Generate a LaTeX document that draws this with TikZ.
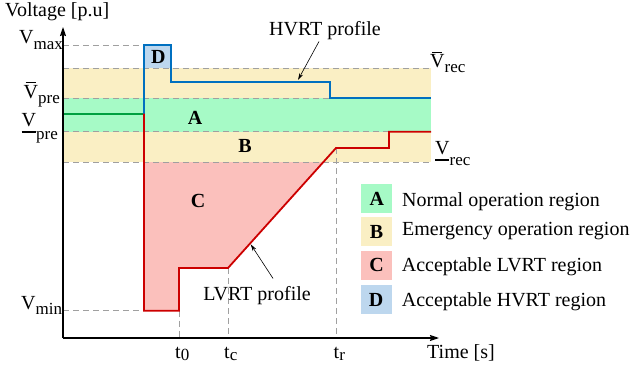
\documentclass[tikz,border=0pt]{standalone}
\usepackage{fontspec}
\setmainfont{Liberation Serif}
\usetikzlibrary{arrows.meta}

\definecolor{bandA}{RGB}{166,250,198}
\definecolor{bandB}{RGB}{250,239,196}
\definecolor{bandC}{RGB}{251,192,188}
\definecolor{bandD}{RGB}{189,215,238}
\definecolor{hvline}{RGB}{0,112,192}
\definecolor{lvline}{RGB}{204,0,0}
\definecolor{preline}{RGB}{0,160,64}
\definecolor{guide}{RGB}{160,160,160}

% letter with a lowered subscript: #1 main, #2 subscript, #3 drop in pt
\newcommand\sublab[3]{#1\raisebox{-#3pt}{\fontsize{17}{17}\selectfont #2}}
\newcommand\barV{\leavevmode\rlap{\hspace{2pt}\raisebox{15pt}{\rule{10pt}{0.8pt}}}V}
\newcommand\undV{\leavevmode\rlap{\raisebox{-6pt}{\rule{14pt}{2pt}}}V}

\tikzset{
  lbl/.style={font=\fontsize{20}{23}\selectfont, inner sep=0pt, anchor=base west},
  region/.style={font=\bfseries\fontsize{20}{23}\selectfont, inner sep=0pt, anchor=base},
  guideline/.style={guide, line width=0.8pt, dash pattern=on 6pt off 4pt},
  profile/.style={line width=1.8pt},
  axisline/.style={line width=1.2pt, -{Stealth[length=9pt,width=6pt,inset=1pt]}},
  pointer/.style={line width=0.6pt, -{Stealth[length=7pt,width=4pt]}},
  legbox/.style={inner sep=0pt, minimum width=31pt, minimum height=29pt,
    font=\bfseries\fontsize{20}{23}\selectfont}
}

\begin{document}
\begin{tikzpicture}[x=1pt,y=-1pt]
\useasboundingbox (0,0) rectangle (631,371);

% key points of the profiles
\coordinate (O) at (63,338);
\coordinate (ytip) at (63,27);
\coordinate (xtip) at (439,338);
\coordinate (pre0) at (63,113.7);
\coordinate (f) at (144,113.7);
\coordinate (fmax) at (144,45);
\coordinate (dR) at (171,45);
\coordinate (dS) at (171,82);
\coordinate (hS) at (330,82);
\coordinate (hD) at (330,98);
\coordinate (hE) at (431,98);
\coordinate (fmin) at (144,310.7);
\coordinate (t0b) at (179,310.7);
\coordinate (t0u) at (179,268);
\coordinate (tcp) at (228,268);
\coordinate (trp) at (336,148);
\coordinate (stp) at (389,148);
\coordinate (stu) at (389,131.7);
\coordinate (lE) at (431,131.7);

% region C and region D fills
\fill[bandC] (f) -- (fmin) -- (t0b) -- (t0u) -- (tcp) -- (trp) -- (336,113.7) -- cycle;
\fill[bandD] (fmax) rectangle (171,68.5);

% emergency and normal bands
\fill[bandB] (63,68.5) rectangle (431,162);
\fill[bandA] (63,98) rectangle (431,131.7);

% guide lines
\draw[guideline] (63,45) -- (fmax);
\draw[guideline] (63,68.5) -- (431,68.5);
\draw[guideline] (63,98) -- (431,98);
\draw[guideline] (63,131.7) -- (431,131.7);
\draw[guideline] (63,162) -- (431,162);
\draw[guideline] (63,310.7) -- (fmin);
\draw[guideline] (t0b) -- (t0b |- O);
\draw[guideline] (tcp) -- (tcp |- O);
\draw[guideline] (trp) -- (trp |- O);

% profiles
\draw[profile, preline] (pre0) -- (f);
\draw[profile, hvline] (f) -- (fmax) -- (dR) -- (dS) -- (hS) -- (hD) -- (hE);
\draw[profile, lvline] (f) -- (fmin) -- (t0b) -- (t0u) -- (tcp) -- (trp) -- (stp) -- (stu) -- (lE);

% axes
\draw[axisline] (O) -- (ytip);
\draw[axisline] (O) -- (xtip);

% axis titles
\node[lbl] (ytitle) at (5,16.7) {Voltage [p.u]};
\node[lbl] (xtitle) at (427,358.3) {Time [s]};

% level labels
\node[lbl] (vmax) at (19,43.3) {\sublab{V}{max}{6}};
\node[lbl] (vpreu) at (23.5,98.3) {\sublab{\barV}{pre}{5.5}};
\node[lbl] (vprel) at (21.5,126.7) {\sublab{\undV}{pre}{13}};
\node[lbl] (vmin) at (21,309.3) {\sublab{V}{min}{5}};
\node[lbl] (vrecu) at (430,68) {\sublab{\barV}{rec}{5}};
\node[lbl] (vrecl) at (435,155) {\sublab{\undV}{rec}{11}};

% time labels
\node[lbl] (t0) at (175,358.3) {\sublab{t}{0}{2}};
\node[lbl] (tc) at (224,358.3) {\sublab{t}{c}{2}};
\node[lbl] (tr) at (333.5,358.3) {\sublab{t}{r}{2}};

% region letters
\node[region] (ra) at (195,124.3) {A};
\node[region] (rb) at (245,152.7) {B};
\node[region] (rc) at (198,207.7) {C};
\node[region] (rd) at (158.3,63.3) {D};

% profile annotations
\node[lbl, anchor=base] (hvtxt) at (325,36) {HVRT profile};
\coordinate (hvpt) at (298,80);
\draw[pointer] ([xshift=-6pt,yshift=-1pt]hvtxt.south) -- (hvpt);
\node[lbl, anchor=base] (lvtxt) at (257,300.7) {LVRT profile};
\coordinate (lvpt) at (250.7,244.3);
\draw[pointer] ([xshift=16pt,yshift=8pt]lvtxt.north) -- (lvpt);

% legend
\node[legbox, fill=bandA] (la) at (376.8,198.4) {A};
\node[legbox, fill=bandB] (lb) at (376.5,231.9) {B};
\node[legbox, fill=bandC] (lc) at (376.5,265.4) {C};
\node[legbox, fill=bandD] (ld) at (376,299.5) {D};
\node[lbl] (lta) at (402,206.7) {Normal operation region};
\node[lbl] (ltb) at (402,236) {Emergency operation region};
\node[lbl] (ltc) at (401.7,271.7) {Acceptable LVRT region};
\node[lbl] (ltd) at (401.7,306.7) {Acceptable HVRT region};
\end{tikzpicture}
\end{document}
